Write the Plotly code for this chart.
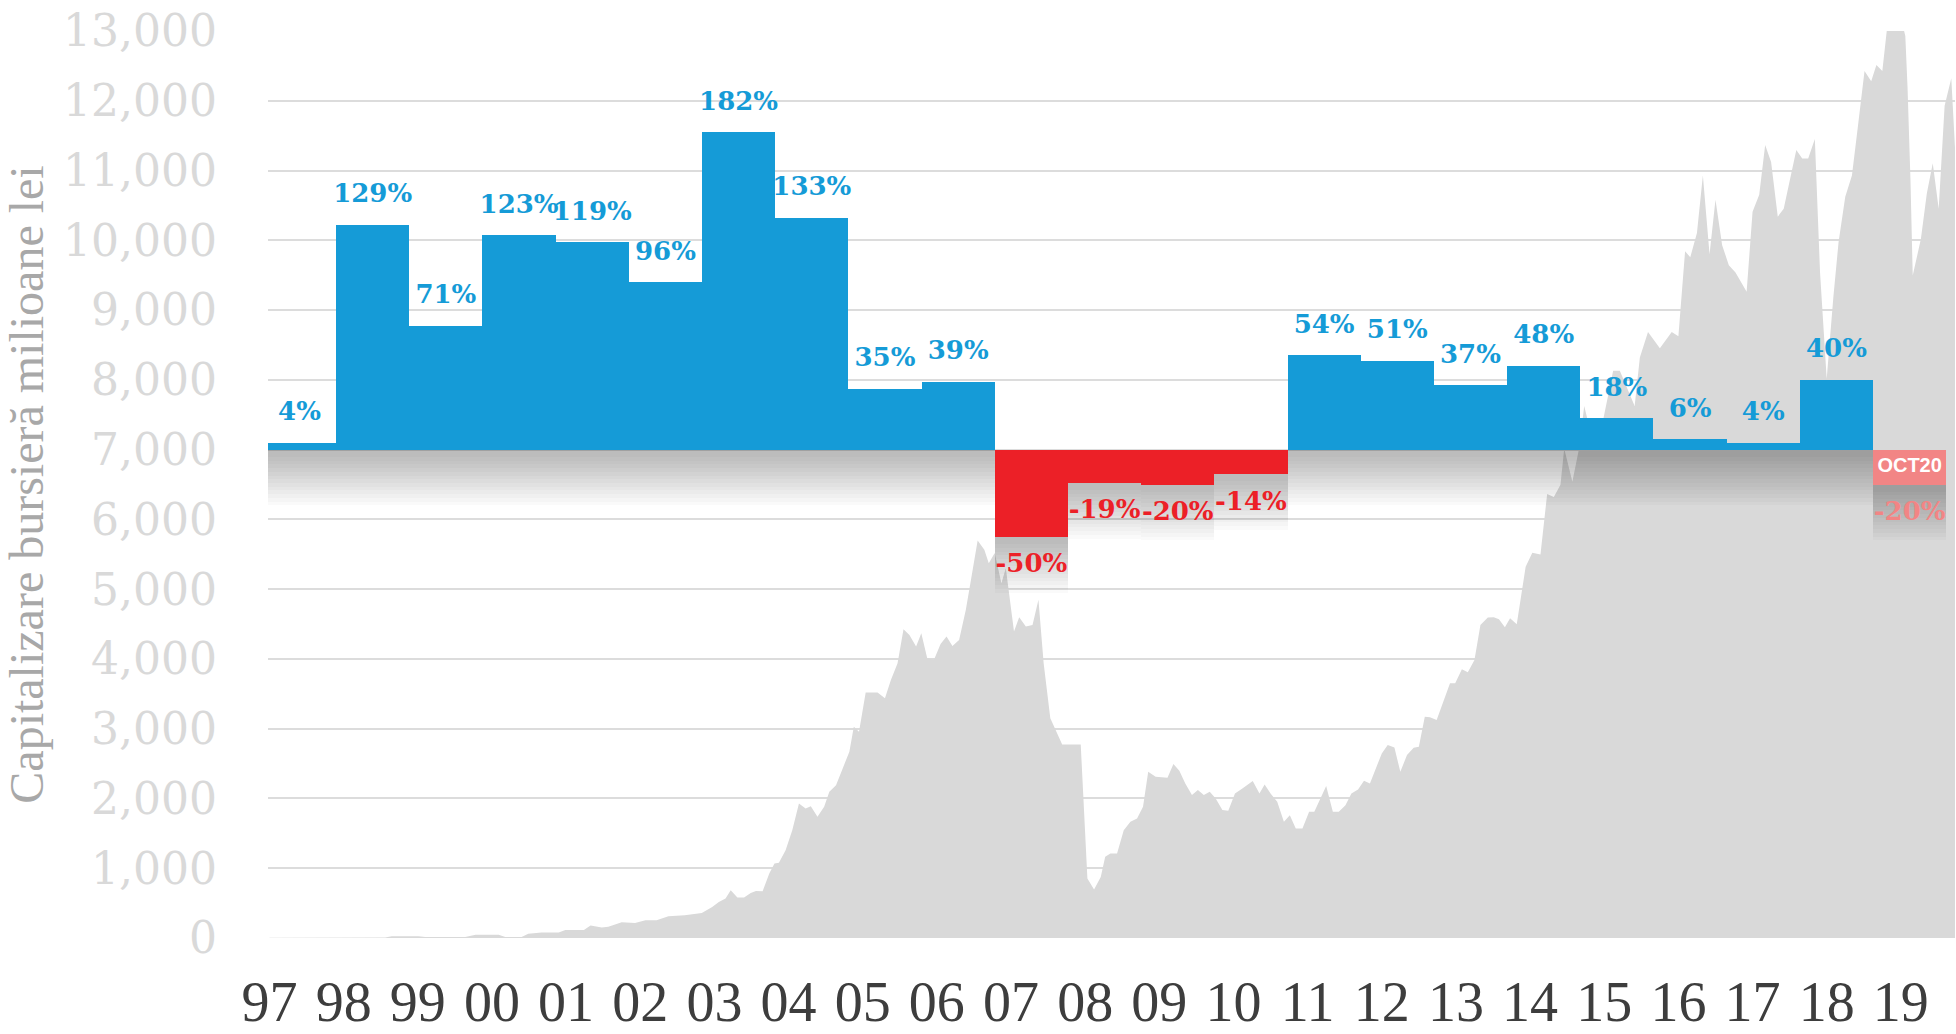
import plotly.graph_objects as go

# yearly change (%) shown as bars around the 7,000 line, last one is year to date
bar_years = ['1998', '1999', '2000', '2001', '2002', '2003', '2004', '2005', '2006', '2007',
             '2008', '2009', '2010', '2011', '2012', '2013', '2014', '2015', '2016', '2017',
             '2018', '2019', 'OCT20']
bar_change = [4, 129, 71, 123, 119, 96, 182, 133, 35, 39,
              -50, -19, -20, -14, 54, 51, 37, 48, 18, 6,
              4, 40, -20]

tick_labels = ['97', '98', '99', '00', '01', '02', '03', '04', '05', '06', '07', '08',
               '09', '10', '11', '12', '13', '14', '15', '16', '17', '18', '19']
tick_years = [1997 + i for i in range(len(tick_labels))]

# market capitalisation, million lei (grey area)
cap_year = [1997.00, 1998.56, 1998.65, 1999.01, 1999.10, 1999.64, 1999.78, 2000.09, 2000.18, 2000.40,
            2000.49, 2000.67, 2000.90, 2000.99, 2001.24, 2001.33, 2001.48, 2001.57, 2001.75, 2001.93,
            2002.07, 2002.22, 2002.38, 2002.60, 2002.83, 2002.97, 2003.06, 2003.15, 2003.22, 2003.31,
            2003.40, 2003.49, 2003.56, 2003.65, 2003.74, 2003.81, 2003.87, 2003.96, 2004.05, 2004.14,
            2004.23, 2004.30, 2004.39, 2004.48, 2004.55, 2004.64, 2004.73, 2004.82, 2004.88, 2004.95,
            2005.04, 2005.20, 2005.30, 2005.38, 2005.47, 2005.55, 2005.63, 2005.72, 2005.79, 2005.87,
            2005.96, 2006.05, 2006.13, 2006.21, 2006.30, 2006.39, 2006.46, 2006.55, 2006.64, 2006.70,
            2006.78, 2006.87, 2006.93, 2007.04, 2007.11, 2007.20, 2007.29, 2007.37, 2007.44, 2007.53,
            2007.69, 2007.94, 2008.03, 2008.12, 2008.21, 2008.27, 2008.34, 2008.43, 2008.52, 2008.61,
            2008.70, 2008.78, 2008.85, 2008.95, 2009.11, 2009.19, 2009.27, 2009.35, 2009.44, 2009.52,
            2009.60, 2009.68, 2009.76, 2009.85, 2009.93, 2010.02, 2010.12, 2010.26, 2010.35, 2010.42,
            2010.50, 2010.59, 2010.68, 2010.76, 2010.84, 2010.93, 2011.02, 2011.09, 2011.25, 2011.34,
            2011.42, 2011.51, 2011.59, 2011.68, 2011.76, 2011.84, 2012.00, 2012.08, 2012.17, 2012.25,
            2012.34, 2012.43, 2012.50, 2012.58, 2012.65, 2012.74, 2012.92, 2012.99, 2013.08, 2013.16,
            2013.25, 2013.33, 2013.43, 2013.51, 2013.58, 2013.66, 2013.73, 2013.82, 2013.94, 2014.03,
            2014.14, 2014.23, 2014.32, 2014.41, 2014.46, 2014.57, 2014.66, 2014.73, 2014.85, 2014.98,
            2015.12, 2015.21, 2015.41, 2015.48, 2015.59, 2015.75, 2015.91, 2016.00, 2016.09, 2016.16,
            2016.25, 2016.33, 2016.42, 2016.50, 2016.59, 2016.68, 2016.77, 2016.92, 2017.00, 2017.09,
            2017.17, 2017.25, 2017.34, 2017.42, 2017.59, 2017.67, 2017.75, 2017.84, 2017.91, 2018.00,
            2018.09, 2018.16, 2018.25, 2018.34, 2018.42, 2018.51, 2018.60, 2018.67, 2018.75, 2018.82,
            2018.91, 2019.02, 2019.06, 2019.09, 2019.13, 2019.16, 2019.27, 2019.35, 2019.43, 2019.51,
            2019.59, 2019.68, 2019.75]
cap_value = [5, 8, 25, 25, 15, 15, 45, 45, 15, 15,
             60, 80, 80, 115, 115, 180, 150, 160, 225, 215,
             255, 255, 310, 325, 360, 445, 517, 565, 684, 579,
             579, 646, 675, 670, 923, 1067, 1077, 1258, 1545, 1928,
             1856, 1890, 1737, 1880, 2096, 2191, 2431, 2670, 3029, 2957,
             3517, 3517, 3435, 3699, 3938, 4426, 4344, 4177, 4368, 4010,
             3986, 4215, 4321, 4187, 4273, 4703, 5134, 5699, 5565, 5373,
             5517, 5086, 5300, 4392, 4598, 4464, 4488, 4847, 3938, 3148,
             2775, 2775, 852, 694, 876, 1163, 1211, 1211, 1545, 1665,
             1713, 1880, 2383, 2311, 2297, 2493, 2397, 2215, 2048, 2120,
             2048, 2096, 2000, 1833, 1823, 2072, 2144, 2249, 2072, 2201,
             2072, 1952, 1665, 1761, 1569, 1569, 1809, 1809, 2177, 1809,
             1809, 1904, 2072, 2129, 2254, 2215, 2646, 2766, 2732, 2383,
             2622, 2727, 2742, 3172, 3163, 3124, 3651, 3651, 3852, 3809,
             3986, 4488, 4593, 4598, 4569, 4455, 4583, 4496, 5322, 5522,
             5496, 6365, 6322, 6496, 7017, 6539, 7017, 7626, 7100, 7400,
             8130, 8130, 7626, 8322, 8687, 8452, 8687, 8626, 9843, 9757,
             10104, 10930, 9800, 10583, 9930, 9643, 9539, 9261, 10409, 10652,
             11365, 11122, 10339, 10452, 11296, 11174, 11174, 11452, 9539, 8017,
             9191, 9974, 10626, 10930, 11626, 12426, 12278, 12513, 12426, 13100,
             13200, 13100, 12930, 12191, 10843, 9496, 10017, 10670, 11104, 10452,
             11930, 12322, 10930]

BLUE = '#159bd7'
RED = '#ec2027'
PINK = '#f28585'
AREA_GREY = '#d9d9d9'
serif = 'DejaVu Serif'

bar_colors = [BLUE if v >= 0 else RED for v in bar_change[:-1]] + [PINK]
bar_text = [f'{v}%' for v in bar_change]
text_pos = ['top center' if v >= 0 else 'bottom center' for v in bar_change]

fig = go.Figure()

# AREA - market cap
fig.add_trace(go.Scatter(
    x=cap_year, y=cap_value,
    mode='none', fill='tozeroy', fillcolor=AREA_GREY,
    hoverinfo='skip', xaxis='x', yaxis='y',
))

# SOFT SHADOW under the bars (stacked transparent layers)
shadow_offset = 2   # in % units of the bar axis
shadow_blur = 30
n_layers = 14
for j in range(1, n_layers + 1):
    s = shadow_blur * j / n_layers
    base = [min(0, v) - shadow_offset - s for v in bar_change]
    top = [max(0, v) for v in bar_change]
    fig.add_trace(go.Bar(
        x=bar_years, y=[t - b for t, b in zip(top, base)], base=base,
        marker=dict(color='rgba(0,0,0,0.018)', line=dict(width=0)),
        hoverinfo='skip', xaxis='x2', yaxis='y2',
    ))

# BARS
fig.add_trace(go.Bar(
    x=bar_years, y=bar_change,
    marker=dict(color=bar_colors, line=dict(width=0)),
    hoverinfo='skip', xaxis='x2', yaxis='y2',
))

# % labels (invisible markers keep the text a bit away from the bar ends)
fig.add_trace(go.Scatter(
    x=bar_years, y=bar_change,
    mode='markers+text',
    marker=dict(size=24, opacity=0),
    text=bar_text, textposition=text_pos,
    textfont=dict(family=serif, size=26, color=bar_colors, weight='bold'),
    cliponaxis=False, hoverinfo='skip', xaxis='x2', yaxis='y2',
))

# label inside the year-to-date bar
fig.add_trace(go.Scatter(
    x=bar_years[-1:], y=[v / 2 for v in bar_change[-1:]],
    mode='text', text=['OCT20'], textposition='middle center',
    textfont=dict(family='Liberation Sans', size=20, color='white', weight='bold'),
    cliponaxis=False, hoverinfo='skip', xaxis='x2', yaxis='y2',
))

fig.update_layout(
    width=1956,
    height=1034,
    xaxis=dict(
        type='linear',
        range=[1996.98, 2019.73],
        tickmode='array', tickvals=tick_years, ticktext=tick_labels,
        showgrid=False, zeroline=False, showline=False, ticks='',
        tickfont=dict(family='Liberation Serif', size=56, color='#3d3d3d'),
        ticklabelstandoff=26,
        automargin=False,
    ),
    yaxis=dict(
        range=[0, 13000], dtick=1000, tickformat=',',
        showgrid=True, gridcolor='#dcdcdc', gridwidth=2,
        zeroline=False, showline=False, ticks='',
        tickfont=dict(family=serif, size=44, color='#d9d9d9'),
        ticklabelstandoff=50,
        title=dict(text='Capitalizare bursieră milioane lei',
                   font=dict(family='Liberation Serif', size=48, color='#a8a8a8'),
                   standoff=4),
        automargin=False,
    ),
    xaxis2=dict(type='category', overlaying='x', anchor='y2',
                range=[-0.43, 22.62], visible=False),
    yaxis2=dict(overlaying='y', anchor='x2', range=[-280, 240], visible=False),
    barmode='overlay',
    bargap=0,
    showlegend=False,
    paper_bgcolor='white',
    plot_bgcolor='white',
    margin=dict(l=268, r=1, t=31, b=96),
)

# page without the default body margin so the figure fills the window
fig.write_html('out.html', config={'displayModeBar': False},
               post_script="document.body.style.margin='0px';")
